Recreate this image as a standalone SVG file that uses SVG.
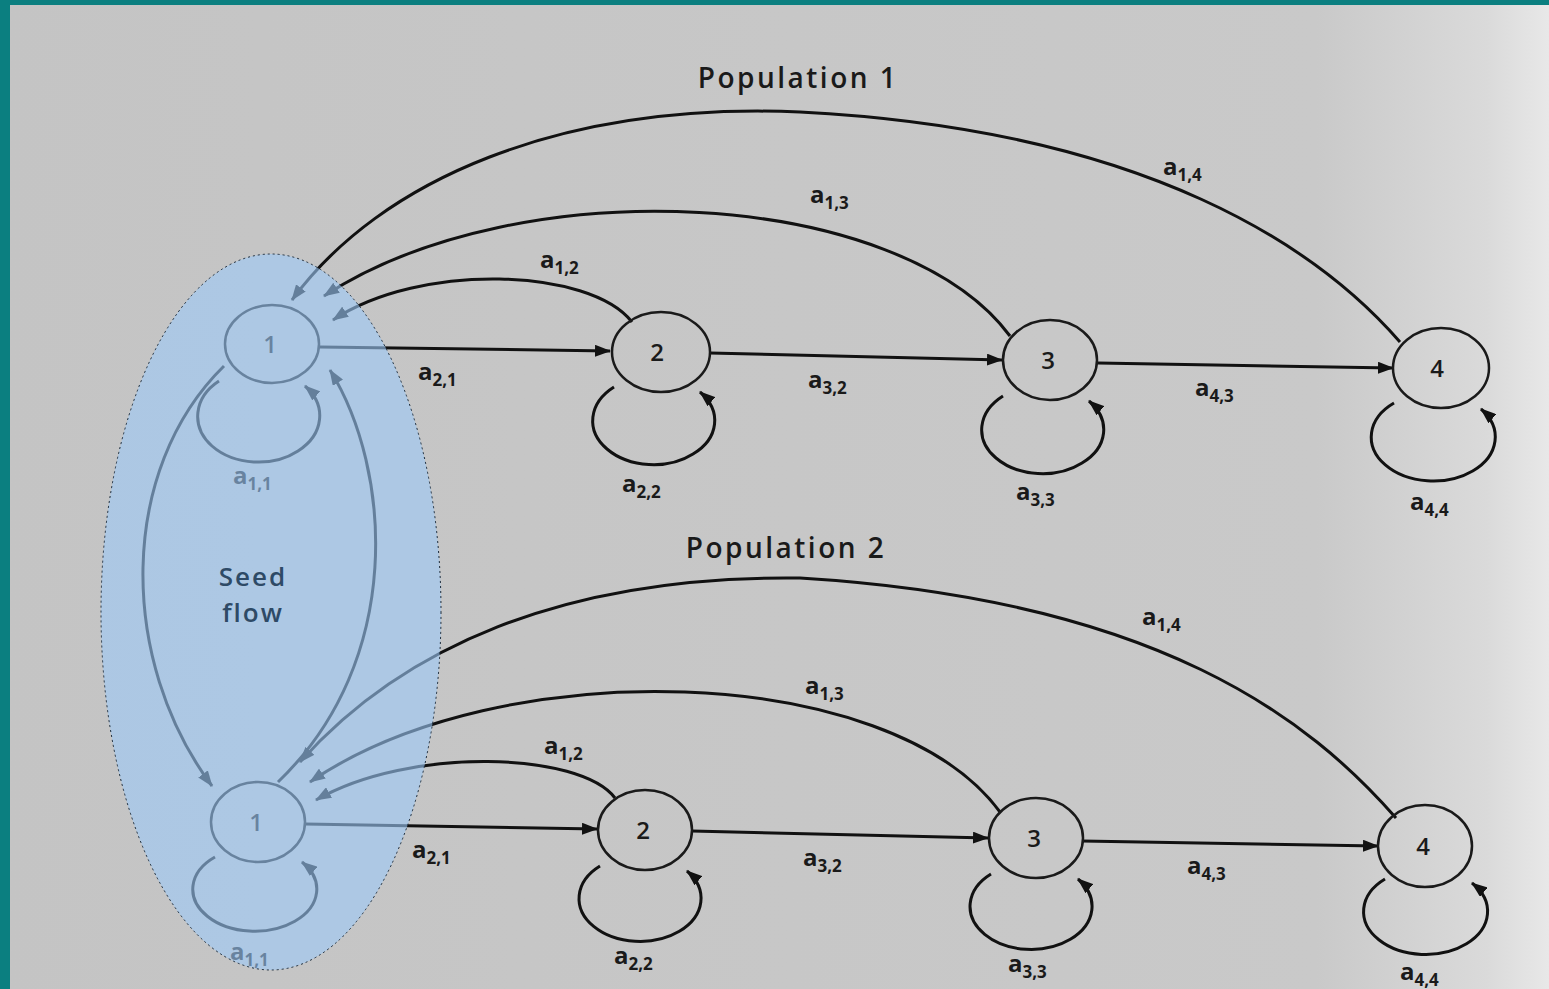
<svg xmlns="http://www.w3.org/2000/svg" width="1549" height="989" viewBox="0 0 1549 989">
  <defs>
    <linearGradient id="paper" x1="0" y1="0" x2="1" y2="0">
      <stop offset="0" stop-color="#c4c4c4"/>
      <stop offset="0.85" stop-color="#c9c9c9"/>
      <stop offset="0.96" stop-color="#dadada"/>
      <stop offset="1" stop-color="#e8e8e8"/>
    </linearGradient>
    <marker id="arrow" viewBox="0 0 16 12" refX="15" refY="6" markerWidth="16" markerHeight="12" markerUnits="userSpaceOnUse" orient="auto">
      <path d="M0,0 L16,6 L0,12 Z" fill="#111"/>
    </marker>
    <style>
      .node ellipse { fill: none; stroke: #1a1a1a; stroke-width: 2.5; }
      .num { font-family: "Open Sans", "Liberation Sans", sans-serif; font-size: 24px; font-weight: 600; fill: #1a1a1a; text-anchor: middle; }
      .edge { fill: none; stroke: #111; stroke-width: 3; marker-end: url(#arrow); }
      .loop { fill: none; stroke: #111; stroke-width: 3; marker-end: url(#arrow); }
      .lbl { font-family: "Open Sans", "Liberation Sans", sans-serif; font-size: 24px; fill: #1a1a1a; font-weight: bold; }
      .sub { font-size: 17px; }
      .title { font-family: "Open Sans", "Liberation Sans", sans-serif; font-size: 28px; letter-spacing: 2.5px; fill: #1a1a1a; font-weight: 600; text-anchor: middle; }
      .seed { font-family: "Open Sans", "Liberation Sans", sans-serif; font-size: 26px; letter-spacing: 2px; fill: #2e4a66; font-weight: 600; text-anchor: middle; }
    </style>
  </defs>

  <!-- page -->
  <rect x="0" y="0" width="1549" height="989" fill="url(#paper)"/>
  <!-- frame -->
  <rect x="0" y="0" width="1549" height="5" fill="#0b7f80"/>
  <rect x="0" y="0" width="10" height="989" fill="#0b7f80"/>

  <!-- titles -->
  <text class="title" x="798" y="88">Population 1</text>
  <text class="title" x="786" y="558">Population 2</text>

  <!-- connectors -->
  <g id="connectors">
    <!-- population 1: forward transitions -->
    <path class="edge" d="M320,347 L610,351"/>
    <path class="edge" d="M710,353 L1002,360"/>
    <path class="edge" d="M1098,363 L1393,368"/>
    <!-- population 1: returns to state 1 -->
    <path class="edge" d="M632,322 C590,268 420,262 333,320"/>
    <path class="edge" d="M1010,336 C900,188 520,168 324,296"/>
    <path class="edge" d="M1400,342 C1320,250 1150,130 800,112 C560,102 380,180 292,300"/>
    <!-- population 1: self loops -->
    <path class="loop" d="M219,381 A61,46 0 1 0 305,386"/>
    <path class="loop" d="M614,387 A61,44 0 1 0 700,392"/>
    <path class="loop" d="M1003,396 A61,44 0 1 0 1089,401"/>
    <path class="loop" d="M1394,403 A62,44 0 1 0 1481,409"/>

    <!-- population 2: forward transitions -->
    <path class="edge" d="M305,824 L597,829"/>
    <path class="edge" d="M692,831 L988,838"/>
    <path class="edge" d="M1082,841 L1378,846"/>
    <!-- population 2: returns to state 1 -->
    <path class="edge" d="M615,798 C580,752 410,746 316,800"/>
    <path class="edge" d="M1000,812 C890,662 500,652 310,782"/>
    <path class="edge" d="M1396,818 C1310,720 1160,600 800,578 C560,575 400,650 300,762"/>
    <!-- population 2: self loops -->
    <path class="loop" d="M215,857 A62,42 0 1 0 302,862"/>
    <path class="loop" d="M600,866 A61,43 0 1 0 687,871"/>
    <path class="loop" d="M991,874 A61,43 0 1 0 1078,879"/>
    <path class="loop" d="M1385,879 A62,43 0 1 0 1472,883"/>

    <!-- seed flow between the two populations -->
    <path class="edge" d="M224,366 C118,470 118,660 212,786"/>
    <path class="edge" d="M278,782 C405,660 392,470 330,370"/>
  </g>

  <!-- population 1 nodes -->
  <g id="p1-s1" class="node"><ellipse cx="272" cy="344" rx="47" ry="39"/><text class="num" x="270" y="353">1</text></g>
  <g id="p1-s2" class="node"><ellipse cx="661" cy="352" rx="49" ry="40"/><text class="num" x="657" y="361">2</text></g>
  <g id="p1-s3" class="node"><ellipse cx="1050" cy="360" rx="47" ry="40"/><text class="num" x="1048" y="369">3</text></g>
  <g id="p1-s4" class="node"><ellipse cx="1441" cy="368" rx="48" ry="40"/><text class="num" x="1437" y="377">4</text></g>

  <!-- population 2 nodes -->
  <g id="p2-s1" class="node"><ellipse cx="258" cy="822" rx="47" ry="40"/><text class="num" x="256" y="831">1</text></g>
  <g id="p2-s2" class="node"><ellipse cx="645" cy="830" rx="47" ry="40"/><text class="num" x="643" y="839">2</text></g>
  <g id="p2-s3" class="node"><ellipse cx="1036" cy="838" rx="47" ry="40"/><text class="num" x="1034" y="847">3</text></g>
  <g id="p2-s4" class="node"><ellipse cx="1425" cy="846" rx="47" ry="41"/><text class="num" x="1423" y="855">4</text></g>

  <!-- transition labels, population 1 -->
  <g id="labels-p1">
    <text class="lbl" x="418" y="380">a<tspan class="sub" dy="6">2,1</tspan></text>
    <text class="lbl" x="808" y="388">a<tspan class="sub" dy="6">3,2</tspan></text>
    <text class="lbl" x="1195" y="396">a<tspan class="sub" dy="6">4,3</tspan></text>
    <text class="lbl" x="540" y="268">a<tspan class="sub" dy="6">1,2</tspan></text>
    <text class="lbl" x="810" y="203">a<tspan class="sub" dy="6">1,3</tspan></text>
    <text class="lbl" x="1163" y="175">a<tspan class="sub" dy="6">1,4</tspan></text>
    <text class="lbl" x="233" y="484">a<tspan class="sub" dy="6">1,1</tspan></text>
    <text class="lbl" x="622" y="492">a<tspan class="sub" dy="6">2,2</tspan></text>
    <text class="lbl" x="1016" y="500">a<tspan class="sub" dy="6">3,3</tspan></text>
    <text class="lbl" x="1410" y="510">a<tspan class="sub" dy="6">4,4</tspan></text>
  </g>

  <!-- transition labels, population 2 -->
  <g id="labels-p2">
    <text class="lbl" x="412" y="858">a<tspan class="sub" dy="6">2,1</tspan></text>
    <text class="lbl" x="803" y="866">a<tspan class="sub" dy="6">3,2</tspan></text>
    <text class="lbl" x="1187" y="874">a<tspan class="sub" dy="6">4,3</tspan></text>
    <text class="lbl" x="544" y="754">a<tspan class="sub" dy="6">1,2</tspan></text>
    <text class="lbl" x="805" y="694">a<tspan class="sub" dy="6">1,3</tspan></text>
    <text class="lbl" x="1142" y="625">a<tspan class="sub" dy="6">1,4</tspan></text>
    <text class="lbl" x="230" y="960">a<tspan class="sub" dy="6">1,1</tspan></text>
    <text class="lbl" x="614" y="964">a<tspan class="sub" dy="6">2,2</tspan></text>
    <text class="lbl" x="1008" y="972">a<tspan class="sub" dy="6">3,3</tspan></text>
    <text class="lbl" x="1400" y="980">a<tspan class="sub" dy="6">4,4</tspan></text>
  </g>

  <!-- seed flow highlight -->
  <g id="seed-flow">
    <ellipse cx="271" cy="612" rx="170" ry="358" fill="#9ccaf8" fill-opacity="0.6" stroke="#1a2a3a" stroke-width="1" stroke-dasharray="2,3"/>
    <text class="seed" x="253" y="586">Seed</text>
    <text class="seed" x="253" y="622">flow</text>
  </g>
</svg>
